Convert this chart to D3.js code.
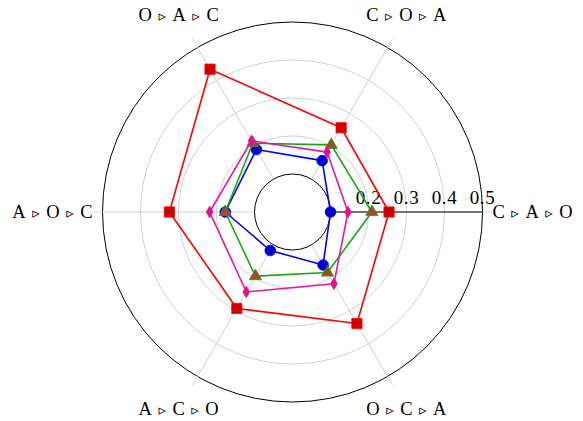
<!DOCTYPE html>
<html>
<head>
<meta charset="utf-8">
<script src="https://cdn.jsdelivr.net/npm/d3@7"></script>
<style>
  html, body { margin: 0; padding: 0; background: #fff; }
  svg { display: block; }
  text { font-family: "Liberation Serif", "DejaVu Serif", serif; fill: #000; }
</style>
</head>
<body>
<svg id="chart" width="583" height="421"></svg>
<script>
// ---- data ----
const categories = ["C ▹ A ▹ O", "C ▹ O ▹ A", "O ▹ A ▹ C", "A ▹ O ▹ C", "A ▹ C ▹ O", "O ▹ C ▹ A"];
const angles = [0, 60, 120, 180, 240, 300];
const blueValues  = [0.100, 0.156, 0.190, 0.177, 0.117, 0.161];
const greenValues = [0.209, 0.204, 0.209, 0.177, 0.195, 0.184];
const pinkValues  = [0.146, 0.182, 0.216, 0.218, 0.243, 0.218];
const redValues   = [0.254, 0.256, 0.434, 0.324, 0.293, 0.339];
const radialTicks = [0.2, 0.3, 0.4, 0.5];
const gridValues  = [0.1, 0.2, 0.3, 0.4, 0.5];

// ---- layout ----
const svg = d3.select("#chart");
const cx = 292.5, cy = 212;
const r = d3.scaleLinear().domain([0, 0.5]).range([0, 190]);
const rMin = 0.1, rMax = 0.5;
const labelR = 200;
const toRad = a => a * Math.PI / 180;
const px = (a, rr) => cx + rr * Math.cos(toRad(a));
const py = (a, rr) => cy - rr * Math.sin(toRad(a));

const g = svg.append("g");

// grid circles
g.selectAll("circle.grid").data(gridValues).join("circle")
  .attr("cx", cx).attr("cy", cy).attr("r", d => r(d))
  .attr("fill", "none")
  .attr("stroke", d => (d === rMin || d === rMax) ? "#000" : "#c4c4c4")
  .attr("stroke-width", d => (d === rMin || d === rMax) ? 1 : 0.8);

// spokes
g.selectAll("line.spoke").data(angles).join("line")
  .attr("x1", a => px(a, r(rMin))).attr("y1", a => py(a, r(rMin)))
  .attr("x2", a => px(a, labelR)).attr("y2", a => py(a, labelR))
  .attr("stroke", "#c4c4c4").attr("stroke-width", 0.8);

// radial axis line (black along 0°)
g.append("line")
  .attr("x1", px(0, r(rMin))).attr("y1", cy)
  .attr("x2", px(0, r(rMax))).attr("y2", cy)
  .attr("stroke", "#000").attr("stroke-width", 1);

// radial tick labels
g.selectAll("text.rtick").data(radialTicks).join("text")
  .attr("x", d => cx + r(d)).attr("y", cy - 8)
  .attr("text-anchor", "middle")
  .attr("font-size", 19)
  .attr("letter-spacing", 0.6)
  .text(d => d3.format(".1f")(d));

// category labels
const off = 24, capHalf = 6;
g.selectAll("text.cat").data(categories).join("text")
  .attr("font-size", 18.5)
  .each(function(d, i) {
    const a = angles[i];
    const ax = px(a, labelR), ay = py(a, labelR);
    const s = Math.sin(toRad(a)), c = Math.cos(toRad(a));
    const t = d3.select(this);
    if (Math.abs(s) < 1e-6) {
      t.attr("x", ax).attr("y", ay + capHalf)
       .attr("text-anchor", c > 0 ? "start" : "end");
    } else {
      const dx = c / Math.abs(s) * off;
      const dy = s > 0 ? -off : off;
      t.attr("x", ax + dx).attr("y", ay + dy + capHalf)
       .attr("text-anchor", "middle");
    }
  })
  .each(function(d) {
    const parts = d.split(" ");
    const t = d3.select(this);
    parts.forEach((p, k) => {
      if (p === "▹") {
        t.append("tspan").attr("font-family", "DejaVu Sans").attr("font-size", 15)
          .attr("dx", 6.5).text(p);
      } else {
        t.append("tspan").attr("dx", k === 0 ? 0 : 6.5).text(p);
      }
    });
  });

// series
const series = [
  { values: blueValues,  stroke: "#0000ff", fill: "#0000cc", symbol: d3.symbolCircle,   size: 90 },
  { values: greenValues, stroke: "#14a814", fill: "#a04a2a", symbol: d3.symbolTriangle, size: 65 },
  { values: pinkValues,  stroke: "#e8189c", fill: "#e0108f", symbol: d3.symbolDiamond,  size: 40 },
  { values: redValues,   stroke: "#ff0000", fill: "#cc0000", symbol: d3.symbolSquare,   size: 105 }
];

const line = d3.lineRadial()
  .angle((d, i) => toRad(90 - angles[i]))
  .radius(d => r(d))
  .curve(d3.curveLinearClosed);

series.forEach(s => {
  const sg = g.append("g");
  sg.append("path")
    .attr("transform", `translate(${cx},${cy})`)
    .attr("d", line(s.values))
    .attr("fill", "none")
    .attr("stroke", s.stroke)
    .attr("stroke-width", 1.6)
    .attr("stroke-linejoin", "round");
  sg.selectAll("path.mark").data(s.values).join("path")
    .attr("transform", (d, i) => `translate(${px(angles[i], r(d))},${py(angles[i], r(d))})`)
    .attr("d", d3.symbol().type(s.symbol).size(s.size))
    .attr("fill", s.fill)
    .attr("stroke", s.stroke)
    .attr("stroke-width", 0.8);
});
</script>
</body>
</html>
